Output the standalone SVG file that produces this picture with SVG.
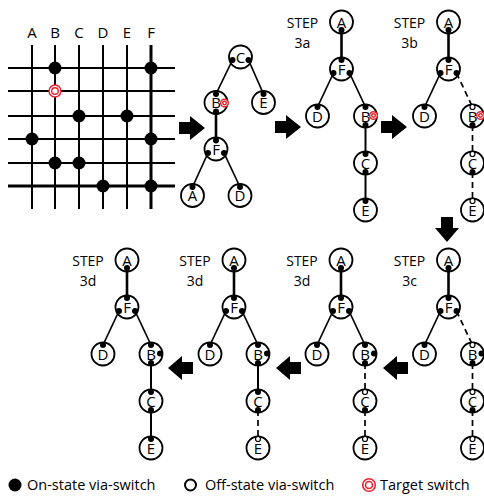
<svg xmlns="http://www.w3.org/2000/svg" width="484" height="498" viewBox="0 0 484 498">
<style>
text{font-family:"Open Sans","Liberation Sans",sans-serif;fill:#000}
.lbl{font-size:14px;text-anchor:middle}
.gl{font-size:15px;text-anchor:middle}
.nl{font-size:15px;text-anchor:middle}
.lg{font-size:14.5px}
.g{stroke:#000;stroke-width:2;fill:none}
.gt{stroke:#000;stroke-width:3;fill:none}
.nc{fill:#fff;stroke:#000;stroke-width:1.8}
.on{fill:#000}
.off{fill:#fff;stroke:#000;stroke-width:1.2}
.tg{fill:#fff;stroke:#e8232a;stroke-width:1.4}
.e{stroke:#000;stroke-width:1.7;fill:none}
.et{stroke:#000;stroke-width:2.6;fill:none}
.ed{stroke:#000;stroke-width:1.7;fill:none;stroke-dasharray:6 4}
.ar{fill:#000}
</style>

<!-- Grid -->
<g id="grid">
  <g class="gl">
    <text x="32" y="37.5">A</text><text x="55" y="37.5">B</text><text x="79" y="37.5">C</text>
    <text x="103" y="37.5">D</text><text x="127" y="37.5">E</text><text x="151" y="37.5">F</text>
  </g>
  <g class="g">
    <line x1="32" y1="45" x2="32" y2="209"/>
    <line x1="55" y1="45" x2="55" y2="209"/>
    <line x1="79" y1="45" x2="79" y2="209"/>
    <line x1="103" y1="45" x2="103" y2="209"/>
    <line x1="127" y1="45" x2="127" y2="209"/>
    <line x1="8" y1="68" x2="175" y2="68"/>
    <line x1="8" y1="91" x2="175" y2="91"/>
    <line x1="8" y1="116" x2="175" y2="116"/>
    <line x1="8" y1="139" x2="175" y2="139"/>
    <line x1="8" y1="163" x2="175" y2="163"/>
  </g>
  <g class="gt">
    <line x1="151" y1="45" x2="151" y2="209"/>
    <line x1="8" y1="186" x2="175" y2="186"/>
  </g>
  <g class="on">
    <circle cx="55" cy="68" r="6.5"/><circle cx="151" cy="68" r="6.5"/>
    <circle cx="79" cy="116" r="6.5"/><circle cx="127" cy="116" r="6.5"/>
    <circle cx="32" cy="139" r="6.5"/><circle cx="151" cy="139" r="6.5"/>
    <circle cx="55" cy="163" r="6.5"/><circle cx="79" cy="163" r="6.5"/>
    <circle cx="103" cy="186" r="6.5"/><circle cx="151" cy="186" r="6.5"/>
  </g>
  <circle class="tg" cx="55" cy="91" r="6"/>
  <circle class="tg" cx="55" cy="91" r="3.3"/>
</g>

<!-- Arrows -->
<g id="arrows" class="ar">
  <path d="M179,122 H190 V116 L205,128 L190,140 V134 H179 Z"/>
  <path d="M275,121 H286 V115 L301,127 L286,139 V133 H275 Z"/>
  <path d="M381,121 H392 V115 L407,127 L392,139 V133 H381 Z"/>
  <path d="M441,217 V228 H435 L447,242 L459,228 H453 V217 Z"/>
  <path d="M408,362 H397 V356 L383,368 L397,380 V374 H408 Z"/>
  <path d="M301,362 H290 V356 L276,368 L290,380 V374 H301 Z"/>
  <path d="M193,362 H182 V356 L168,368 L182,380 V374 H193 Z"/>
</g>

<!-- Connectors -->
<g id="connectors">
  <g id="c-t1">
    <line class="e" x1="232.5" y1="60" x2="216" y2="94"/>
    <line class="e" x1="248.5" y1="60" x2="263.5" y2="94"/>
    <line class="et" x1="216" y1="111.5" x2="216" y2="140.5"/>
    <line class="e" x1="208" y1="153" x2="192.5" y2="187"/>
    <line class="e" x1="224" y1="153" x2="240" y2="187"/>
  </g>
  <g id="c-3a" transform="translate(341.5,22)">
    <line class="et" x1="0" y1="8" x2="0" y2="38"/>
    <line class="e" x1="-8" y1="51" x2="-24" y2="85"/>
    <line class="e" x1="8" y1="51" x2="24" y2="85"/>
    <line class="et" x1="24" y1="103" x2="24" y2="132" style="stroke-width:2"/>
    <line class="et" x1="24" y1="150" x2="24" y2="179" style="stroke-width:2"/>
  </g>
  <g id="c-3b" transform="translate(448.5,22)">
    <line class="et" x1="0" y1="8" x2="0" y2="38"/>
    <line class="e" x1="-8" y1="51" x2="-24" y2="85"/>
    <line class="ed" x1="8" y1="51" x2="24" y2="85"/>
    <line class="ed" x1="24" y1="103" x2="24" y2="132"/>
    <line class="ed" x1="24" y1="150" x2="24" y2="179"/>
  </g>
  <g id="c-3c" transform="translate(448.5,260)">
    <line class="et" x1="0" y1="8" x2="0" y2="38"/>
    <line class="e" x1="-8" y1="51" x2="-24" y2="85"/>
    <line class="ed" x1="8" y1="51" x2="24" y2="85"/>
    <line class="ed" x1="24" y1="103" x2="24" y2="132"/>
    <line class="ed" x1="24" y1="150" x2="24" y2="179"/>
  </g>
  <g id="c-3d1" transform="translate(341,260)">
    <line class="et" x1="0" y1="8" x2="0" y2="38"/>
    <line class="e" x1="-8" y1="51" x2="-24" y2="85"/>
    <line class="e" x1="8" y1="51" x2="24" y2="85"/>
    <line class="ed" x1="24" y1="103" x2="24" y2="132"/>
    <line class="ed" x1="24" y1="150" x2="24" y2="179"/>
  </g>
  <g id="c-3d2" transform="translate(234,260)">
    <line class="et" x1="0" y1="8" x2="0" y2="38"/>
    <line class="e" x1="-8" y1="51" x2="-24" y2="85"/>
    <line class="e" x1="8" y1="51" x2="24" y2="85"/>
    <line class="et" x1="24" y1="103" x2="24" y2="132" style="stroke-width:2"/>
    <line class="ed" x1="24" y1="150" x2="24" y2="179"/>
  </g>
  <g id="c-3d3" transform="translate(127,260)">
    <line class="et" x1="0" y1="8" x2="0" y2="38"/>
    <line class="e" x1="-8" y1="51" x2="-24" y2="85"/>
    <line class="e" x1="8" y1="51" x2="24" y2="85"/>
    <line class="et" x1="24" y1="103" x2="24" y2="132" style="stroke-width:2"/>
    <line class="et" x1="24" y1="150" x2="24" y2="179" style="stroke-width:2"/>
  </g>
</g>

<!-- Tree 1 -->
<g id="tree1">
  <g id="t1-C"><circle class="nc" cx="240.5" cy="57" r="11.5"/><text class="nl" x="240.5" y="62.5">C</text>
    <circle class="on" cx="232.5" cy="60" r="3"/><circle class="on" cx="248.5" cy="60" r="3"/></g>
  <g id="t1-B"><circle class="nc" cx="216" cy="102.5" r="11.5"/><text class="nl" x="216" y="108">B</text>
    <circle class="on" cx="216" cy="94" r="3"/><circle class="on" cx="216" cy="111.5" r="3"/>
    <circle class="tg" cx="224.5" cy="103" r="3.8"/><circle class="tg" cx="224.5" cy="103" r="1.8"/></g>
  <g id="t1-E"><circle class="nc" cx="263.5" cy="102.5" r="11.5"/><text class="nl" x="263.5" y="108">E</text>
    <circle class="on" cx="263.5" cy="94" r="3"/></g>
  <g id="t1-F"><circle class="nc" cx="216" cy="149" r="11.5"/><text class="nl" x="216" y="154.5">F</text>
    <circle class="on" cx="216" cy="140.5" r="3"/><circle class="on" cx="208" cy="153" r="3"/><circle class="on" cx="224" cy="153" r="3"/></g>
  <g id="t1-A"><circle class="nc" cx="192.5" cy="195.5" r="11.5"/><text class="nl" x="192.5" y="201">A</text>
    <circle class="on" cx="192.5" cy="187" r="3"/></g>
  <g id="t1-D"><circle class="nc" cx="240" cy="195.5" r="11.5"/><text class="nl" x="240" y="201">D</text>
    <circle class="on" cx="240" cy="187" r="3"/></g>
</g>

<!-- Step 3a -->
<g id="tree3a" transform="translate(341.5,22)">
  <text class="lbl" x="-39" y="5.5">STEP</text><text class="lbl" x="-39" y="26">3a</text>
  <g id="a-A"><circle class="nc" cx="0" cy="0" r="11.5"/><text class="nl" x="0" y="5.5">A</text><circle class="on" cx="0" cy="8" r="3"/></g>
  <g id="a-F"><circle class="nc" cx="0" cy="47" r="11.5"/><text class="nl" x="0" y="52.5">F</text>
    <circle class="on" cx="0" cy="38" r="3"/><circle class="on" cx="-8" cy="51" r="3"/><circle class="on" cx="8" cy="51" r="3"/></g>
  <g id="a-D"><circle class="nc" cx="-24" cy="94" r="11.5"/><text class="nl" x="-24" y="99.5">D</text><circle class="on" cx="-24" cy="85" r="3"/></g>
  <g id="a-B"><circle class="nc" cx="24" cy="94" r="11.5"/><text class="nl" x="24" y="99.5">B</text>
    <circle class="on" cx="24" cy="85" r="3"/><circle class="on" cx="24" cy="103" r="3"/>
    <circle class="tg" cx="32" cy="93.5" r="3.8"/><circle class="tg" cx="32" cy="93.5" r="1.8"/></g>
  <g id="a-C"><circle class="nc" cx="24" cy="141" r="11.5"/><text class="nl" x="24" y="146.5">C</text>
    <circle class="on" cx="24" cy="132" r="3"/><circle class="on" cx="24" cy="150" r="3"/></g>
  <g id="a-E"><circle class="nc" cx="24" cy="188" r="11.5"/><text class="nl" x="24" y="193.5">E</text><circle class="on" cx="24" cy="179" r="3"/></g>
</g>

<!-- Step 3b -->
<g id="tree3b" transform="translate(448.5,22)">
  <text class="lbl" x="-39" y="5.5">STEP</text><text class="lbl" x="-39" y="26">3b</text>
  <g id="b-A"><circle class="nc" cx="0" cy="0" r="11.5"/><text class="nl" x="0" y="5.5">A</text><circle class="on" cx="0" cy="8" r="3"/></g>
  <g id="b-F"><circle class="nc" cx="0" cy="47" r="11.5"/><text class="nl" x="0" y="52.5">F</text>
    <circle class="on" cx="0" cy="38" r="3"/><circle class="on" cx="-8" cy="51" r="3"/><circle class="on" cx="8" cy="51" r="3"/></g>
  <g id="b-D"><circle class="nc" cx="-24" cy="94" r="11.5"/><text class="nl" x="-24" y="99.5">D</text><circle class="on" cx="-24" cy="85" r="3"/></g>
  <g id="b-B"><circle class="nc" cx="24" cy="94" r="11.5"/><text class="nl" x="24" y="99.5">B</text>
    <circle class="off" cx="24" cy="85" r="2.5"/><circle class="on" cx="24" cy="103" r="3"/>
    <circle class="tg" cx="32" cy="93.5" r="3.8"/><circle class="tg" cx="32" cy="93.5" r="1.8"/></g>
  <g id="b-C"><circle class="nc" cx="24" cy="141" r="11.5"/><text class="nl" x="24" y="146.5">C</text>
    <circle class="off" cx="24" cy="132" r="2.5"/><circle class="on" cx="24" cy="150" r="3"/></g>
  <g id="b-E"><circle class="nc" cx="24" cy="188" r="11.5"/><text class="nl" x="24" y="193.5">E</text><circle class="off" cx="24" cy="179" r="2.5"/></g>
</g>

<!-- Step 3c -->
<g id="tree3c" transform="translate(448.5,260)">
  <text class="lbl" x="-39" y="5.5">STEP</text><text class="lbl" x="-39" y="26">3c</text>
  <g id="c-A"><circle class="nc" cx="0" cy="0" r="11.5"/><text class="nl" x="0" y="5.5">A</text><circle class="on" cx="0" cy="8" r="3"/></g>
  <g id="c-F"><circle class="nc" cx="0" cy="47" r="11.5"/><text class="nl" x="0" y="52.5">F</text>
    <circle class="on" cx="0" cy="38" r="3"/><circle class="on" cx="-8" cy="51" r="3"/><circle class="on" cx="8" cy="51" r="3"/></g>
  <g id="c-D"><circle class="nc" cx="-24" cy="94" r="11.5"/><text class="nl" x="-24" y="99.5">D</text><circle class="on" cx="-24" cy="85" r="3"/></g>
  <g id="c-B"><circle class="nc" cx="24" cy="94" r="11.5"/><text class="nl" x="24" y="99.5">B</text>
    <circle class="off" cx="24" cy="85" r="2.5"/><circle class="on" cx="24" cy="103" r="3"/><circle class="on" cx="33" cy="93.5" r="3"/></g>
  <g id="c-C"><circle class="nc" cx="24" cy="141" r="11.5"/><text class="nl" x="24" y="146.5">C</text>
    <circle class="off" cx="24" cy="132" r="2.5"/><circle class="on" cx="24" cy="150" r="3"/></g>
  <g id="c-E"><circle class="nc" cx="24" cy="188" r="11.5"/><text class="nl" x="24" y="193.5">E</text><circle class="off" cx="24" cy="179" r="2.5"/></g>
</g>

<!-- Step 3d (1) -->
<g id="tree3d1" transform="translate(341,260)">
  <text class="lbl" x="-39" y="5.5">STEP</text><text class="lbl" x="-39" y="26">3d</text>
  <g id="d1-A"><circle class="nc" cx="0" cy="0" r="11.5"/><text class="nl" x="0" y="5.5">A</text><circle class="on" cx="0" cy="8" r="3"/></g>
  <g id="d1-F"><circle class="nc" cx="0" cy="47" r="11.5"/><text class="nl" x="0" y="52.5">F</text>
    <circle class="on" cx="0" cy="38" r="3"/><circle class="on" cx="-8" cy="51" r="3"/><circle class="on" cx="8" cy="51" r="3"/></g>
  <g id="d1-D"><circle class="nc" cx="-24" cy="94" r="11.5"/><text class="nl" x="-24" y="99.5">D</text><circle class="on" cx="-24" cy="85" r="3"/></g>
  <g id="d1-B"><circle class="nc" cx="24" cy="94" r="11.5"/><text class="nl" x="24" y="99.5">B</text>
    <circle class="on" cx="24" cy="85" r="3"/><circle class="on" cx="24" cy="103" r="3"/><circle class="on" cx="33" cy="93.5" r="3"/></g>
  <g id="d1-C"><circle class="nc" cx="24" cy="141" r="11.5"/><text class="nl" x="24" y="146.5">C</text>
    <circle class="off" cx="24" cy="132" r="2.5"/><circle class="on" cx="24" cy="150" r="3"/></g>
  <g id="d1-E"><circle class="nc" cx="24" cy="188" r="11.5"/><text class="nl" x="24" y="193.5">E</text><circle class="off" cx="24" cy="179" r="2.5"/></g>
</g>

<!-- Step 3d (2) -->
<g id="tree3d2" transform="translate(234,260)">
  <text class="lbl" x="-39" y="5.5">STEP</text><text class="lbl" x="-39" y="26">3d</text>
  <g id="d2-A"><circle class="nc" cx="0" cy="0" r="11.5"/><text class="nl" x="0" y="5.5">A</text><circle class="on" cx="0" cy="8" r="3"/></g>
  <g id="d2-F"><circle class="nc" cx="0" cy="47" r="11.5"/><text class="nl" x="0" y="52.5">F</text>
    <circle class="on" cx="0" cy="38" r="3"/><circle class="on" cx="-8" cy="51" r="3"/><circle class="on" cx="8" cy="51" r="3"/></g>
  <g id="d2-D"><circle class="nc" cx="-24" cy="94" r="11.5"/><text class="nl" x="-24" y="99.5">D</text><circle class="on" cx="-24" cy="85" r="3"/></g>
  <g id="d2-B"><circle class="nc" cx="24" cy="94" r="11.5"/><text class="nl" x="24" y="99.5">B</text>
    <circle class="on" cx="24" cy="85" r="3"/><circle class="on" cx="24" cy="103" r="3"/><circle class="on" cx="33" cy="93.5" r="3"/></g>
  <g id="d2-C"><circle class="nc" cx="24" cy="141" r="11.5"/><text class="nl" x="24" y="146.5">C</text>
    <circle class="on" cx="24" cy="132" r="3"/><circle class="on" cx="24" cy="150" r="3"/></g>
  <g id="d2-E"><circle class="nc" cx="24" cy="188" r="11.5"/><text class="nl" x="24" y="193.5">E</text><circle class="off" cx="24" cy="179" r="2.5"/></g>
</g>

<!-- Step 3d (3) -->
<g id="tree3d3" transform="translate(127,260)">
  <text class="lbl" x="-39" y="5.5">STEP</text><text class="lbl" x="-39" y="26">3d</text>
  <g id="d3-A"><circle class="nc" cx="0" cy="0" r="11.5"/><text class="nl" x="0" y="5.5">A</text><circle class="on" cx="0" cy="8" r="3"/></g>
  <g id="d3-F"><circle class="nc" cx="0" cy="47" r="11.5"/><text class="nl" x="0" y="52.5">F</text>
    <circle class="on" cx="0" cy="38" r="3"/><circle class="on" cx="-8" cy="51" r="3"/><circle class="on" cx="8" cy="51" r="3"/></g>
  <g id="d3-D"><circle class="nc" cx="-24" cy="94" r="11.5"/><text class="nl" x="-24" y="99.5">D</text><circle class="on" cx="-24" cy="85" r="3"/></g>
  <g id="d3-B"><circle class="nc" cx="24" cy="94" r="11.5"/><text class="nl" x="24" y="99.5">B</text>
    <circle class="on" cx="24" cy="85" r="3"/><circle class="on" cx="24" cy="103" r="3"/><circle class="on" cx="33" cy="93.5" r="3"/></g>
  <g id="d3-C"><circle class="nc" cx="24" cy="141" r="11.5"/><text class="nl" x="24" y="146.5">C</text>
    <circle class="on" cx="24" cy="132" r="3"/><circle class="on" cx="24" cy="150" r="3"/></g>
  <g id="d3-E"><circle class="nc" cx="24" cy="188" r="11.5"/><text class="nl" x="24" y="193.5">E</text><circle class="on" cx="24" cy="179" r="3"/></g>
</g>

<!-- Legend -->
<g id="legend">
  <circle class="on" cx="15" cy="485" r="6.5"/>
  <text class="lg" x="27" y="490">On-state via-switch</text>
  <circle cx="190.5" cy="485" r="5.5" fill="#fff" stroke="#000" stroke-width="2"/>
  <text class="lg" x="205" y="490">Off-state via-switch</text>
  <circle class="tg" cx="369" cy="485" r="6.3" style="stroke-width:1.6"/>
  <circle class="tg" cx="369" cy="485" r="3.5" style="stroke-width:1.6"/>
  <text class="lg" x="380" y="490">Target switch</text>
</g>
</svg>
